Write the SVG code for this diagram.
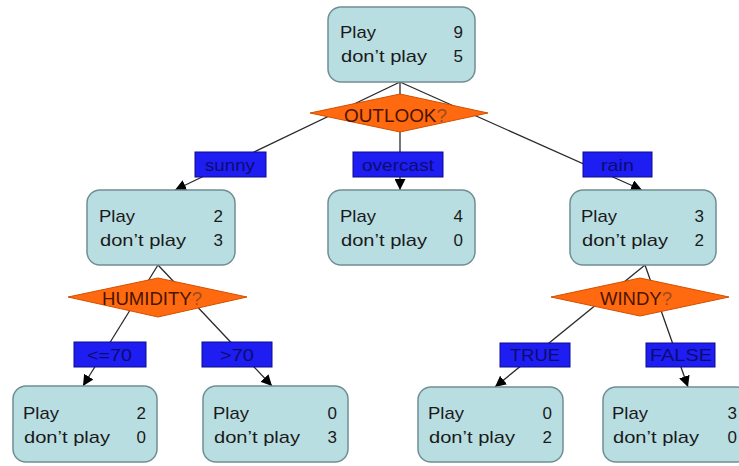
<svg xmlns="http://www.w3.org/2000/svg" width="739" height="466" viewBox="0 0 739 466">
<style>
.box{fill:#b9dee2;stroke:#6f8f94;stroke-width:1.5}
.t{font-family:"Liberation Sans",Arial,sans-serif;font-size:17px;fill:#1a1a1a}
.n{text-anchor:end}
.dia{fill:#ff6a10;stroke:#d25000;stroke-width:1}
.dt{font-family:"Liberation Sans",Arial,sans-serif;font-size:18px;fill:#4a1400}
.q{fill:#a04a20}
.lab{fill:#1e1ef2;stroke:#0a0a90;stroke-width:1}
.lt{font-family:"Liberation Sans",Arial,sans-serif;font-size:17px;fill:#0c0c6e}
.c{stroke:#2a2a2a;stroke-width:1.3;fill:none}
</style>
<defs>
<marker id="arr" markerUnits="userSpaceOnUse" markerWidth="12" markerHeight="11" refX="11" refY="5.5" orient="auto">
<path d="M0,0 L11,5.5 L0,11 z" fill="#000"/>
</marker>
</defs>
<g id="connectors">
<line class="c" x1="400" y1="82" x2="175" y2="190" marker-end="url(#arr)"/>
<line class="c" x1="400" y1="82" x2="400" y2="190" marker-end="url(#arr)"/>
<line class="c" x1="400" y1="82" x2="642" y2="190" marker-end="url(#arr)"/>
<line class="c" x1="158" y1="265" x2="83" y2="386" marker-end="url(#arr)"/>
<line class="c" x1="158" y1="265" x2="272" y2="386" marker-end="url(#arr)"/>
<line class="c" x1="645" y1="265" x2="495" y2="387" marker-end="url(#arr)"/>
<line class="c" x1="645" y1="265" x2="688" y2="387" marker-end="url(#arr)"/>
</g>
<g id="outlook">
<polygon class="dia" points="310,113 400,94 488,113 400,132"/>
<text class="dt" x="344" y="122" textLength="103" lengthAdjust="spacingAndGlyphs">OUTLOOK<tspan class="q">?</tspan></text>
</g>
<g id="humidity">
<polygon class="dia" points="68,297 158,278 247,297 158,317"/>
<text class="dt" x="102" y="305" textLength="100" lengthAdjust="spacingAndGlyphs">HUMIDITY<tspan class="q">?</tspan></text>
</g>
<g id="windy">
<polygon class="dia" points="551,297 640,278 729,297 640,316"/>
<text class="dt" x="600" y="305" textLength="72" lengthAdjust="spacingAndGlyphs">WINDY<tspan class="q">?</tspan></text>
</g>
<g id="label-sunny"><rect class="lab" x="195" y="152" width="71" height="25"/><text class="lt" x="205" y="171" textLength="50" lengthAdjust="spacingAndGlyphs">sunny</text></g>
<g id="label-overcast"><rect class="lab" x="353" y="152" width="90" height="25"/><text class="lt" x="362" y="171" textLength="72" lengthAdjust="spacingAndGlyphs">overcast</text></g>
<g id="label-rain"><rect class="lab" x="583" y="152" width="69" height="25"/><text class="lt" x="601" y="171" textLength="33" lengthAdjust="spacingAndGlyphs">rain</text></g>
<g id="label-le70"><rect class="lab" x="74" y="342" width="72" height="25"/><text class="lt" x="87" y="361" textLength="45" lengthAdjust="spacingAndGlyphs">&lt;=70</text></g>
<g id="label-gt70"><rect class="lab" x="202" y="342" width="70" height="25"/><text class="lt" x="220" y="361" textLength="34" lengthAdjust="spacingAndGlyphs">&gt;70</text></g>
<g id="label-true"><rect class="lab" x="500" y="343" width="70" height="24"/><text class="lt" x="510" y="361" textLength="50" lengthAdjust="spacingAndGlyphs">TRUE</text></g>
<g id="label-false"><rect class="lab" x="646" y="343" width="69" height="24"/><text class="lt" x="650" y="361" textLength="62" lengthAdjust="spacingAndGlyphs">FALSE</text></g>
<g id="root">
<rect class="box" x="328" y="7" width="147" height="75" rx="13"/>
<text class="t" x="340" y="38" textLength="36" lengthAdjust="spacingAndGlyphs">Play</text><text class="t n" x="463" y="38">9</text>
<text class="t" x="341" y="62" textLength="86" lengthAdjust="spacingAndGlyphs">don’t play</text><text class="t n" x="463" y="62">5</text>
</g>
<g id="sunny-node">
<rect class="box" x="87" y="190" width="148" height="75" rx="13"/>
<text class="t" x="99" y="222" textLength="36" lengthAdjust="spacingAndGlyphs">Play</text><text class="t n" x="223" y="222">2</text>
<text class="t" x="100" y="246" textLength="86" lengthAdjust="spacingAndGlyphs">don’t play</text><text class="t n" x="223" y="246">3</text>
</g>
<g id="overcast-node">
<rect class="box" x="328" y="190" width="147" height="75" rx="13"/>
<text class="t" x="340" y="222" textLength="36" lengthAdjust="spacingAndGlyphs">Play</text><text class="t n" x="463" y="222">4</text>
<text class="t" x="341" y="246" textLength="86" lengthAdjust="spacingAndGlyphs">don’t play</text><text class="t n" x="463" y="246">0</text>
</g>
<g id="rain-node">
<rect class="box" x="570" y="190" width="146" height="75" rx="13"/>
<text class="t" x="581" y="222" textLength="36" lengthAdjust="spacingAndGlyphs">Play</text><text class="t n" x="704" y="222">3</text>
<text class="t" x="582" y="246" textLength="86" lengthAdjust="spacingAndGlyphs">don’t play</text><text class="t n" x="704" y="246">2</text>
</g>
<g id="le70-node">
<rect class="box" x="13" y="386" width="144" height="76" rx="13"/>
<text class="t" x="23" y="419" textLength="36" lengthAdjust="spacingAndGlyphs">Play</text><text class="t n" x="146" y="419">2</text>
<text class="t" x="24" y="443" textLength="86" lengthAdjust="spacingAndGlyphs">don’t play</text><text class="t n" x="146" y="443">0</text>
</g>
<g id="gt70-node">
<rect class="box" x="203" y="386" width="145" height="76" rx="13"/>
<text class="t" x="213" y="419" textLength="36" lengthAdjust="spacingAndGlyphs">Play</text><text class="t n" x="337" y="419">0</text>
<text class="t" x="214" y="443" textLength="86" lengthAdjust="spacingAndGlyphs">don’t play</text><text class="t n" x="337" y="443">3</text>
</g>
<g id="true-node">
<rect class="box" x="418" y="387" width="145" height="75" rx="13"/>
<text class="t" x="428" y="419" textLength="36" lengthAdjust="spacingAndGlyphs">Play</text><text class="t n" x="552" y="419">0</text>
<text class="t" x="429" y="443" textLength="86" lengthAdjust="spacingAndGlyphs">don’t play</text><text class="t n" x="552" y="443">2</text>
</g>
<g id="false-node">
<rect class="box" x="603" y="387" width="146" height="75" rx="13"/>
<text class="t" x="612" y="419" textLength="36" lengthAdjust="spacingAndGlyphs">Play</text><text class="t n" x="737" y="419">3</text>
<text class="t" x="613" y="443" textLength="86" lengthAdjust="spacingAndGlyphs">don’t play</text><text class="t n" x="737" y="443">0</text>
</g>
</svg>
